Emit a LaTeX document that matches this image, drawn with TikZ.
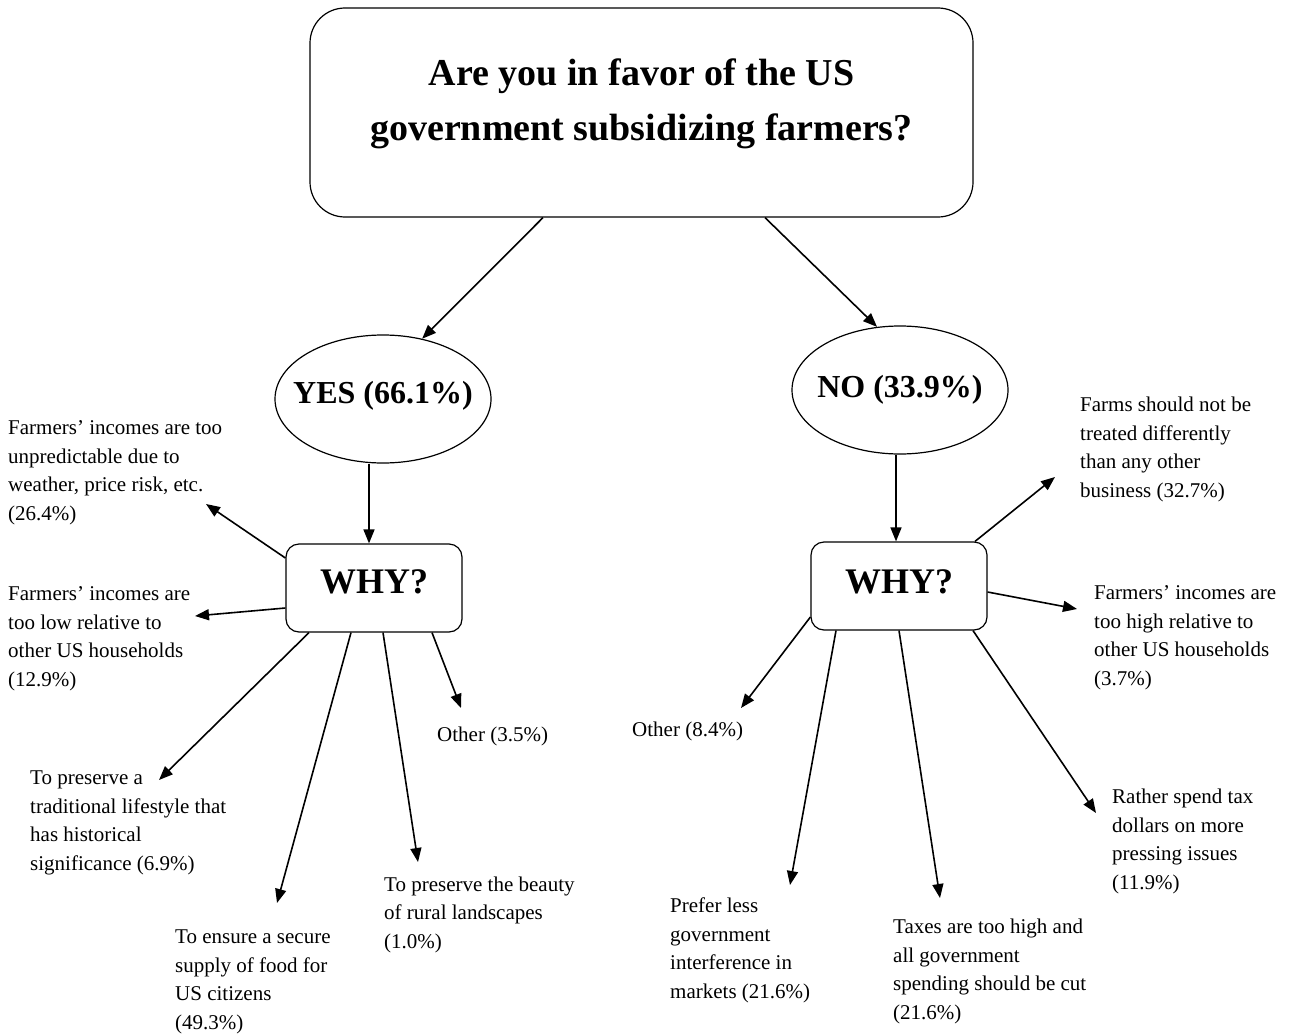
\documentclass[tikz,border=0pt]{standalone}
\usepackage{fontspec}
\setmainfont{Liberation Serif}
\usetikzlibrary{arrows.meta,shapes.geometric}
\tikzset{>={Triangle[length=14pt,width=11pt]}}
\tikzset{
  question/.style={draw, line width=1.2pt, rounded corners=35pt, minimum width=663pt, minimum height=209pt, inner sep=0pt},
  answer/.style={draw, ellipse, line width=1.2pt, minimum width=216pt, minimum height=128pt, inner sep=0pt, font=\fontsize{32}{38}\selectfont\bfseries, text height=24pt, text depth=16pt},
  whybox/.style={draw, line width=1.2pt, rounded corners=13pt, minimum width=176pt, minimum height=88pt, inner sep=0pt, font=\fontsize{36}{42}\selectfont\bfseries, text height=26pt, text depth=16pt},
  reason/.style={anchor=base west, align=left, inner sep=0pt, font=\fontsize{21}{28.5}\selectfont},
  link/.style={->, line width=1.6pt}
}

\begin{document}
\begin{tikzpicture}[x=1pt, y=-1pt]
    \useasboundingbox (0,0) rectangle (1289,1033);
    % question and answers
    \node[question] (q) at (641.5,112.5) {};
    \node[font=\fontsize{38}{55}\selectfont\bfseries, align=center] (qtext) at ([yshift=9]q.center) {Are you in favor of the US\\government subsidizing farmers?};
    \node[answer] (yes) at (383,399) {\makebox[0pt]{YES (66.1\%)}};
    \node[answer, text depth=10pt] (no) at (900,390) {\makebox[0pt]{NO (33.9\%)}};
    \node[whybox] (whyY) at (374,588) {WHY?};
    \node[whybox, text depth=12pt] (whyN) at (899,586) {WHY?};
    \draw[link] ([xshift=-98.5]q.south) -- (yes.57);
    \draw[link] ([xshift=123.5]q.south) -- (no.110);
    \draw[link] ([xshift=-14]yes.south) -- ([xshift=-5]whyY.north);
    \draw[link] ([xshift=-4]no.south) -- ([xshift=-3]whyN.north);

    % reasons for yes (placed at the baseline of the last line)
    \node[reason] (fy1) at (8,520) {Farmers' incomes are too\\unpredictable due to\\weather, price risk, etc.\\(26.4\%)};
    \node[reason] (fy2) at (8,686) {Farmers' incomes are\\too low relative to\\other US households\\(12.9\%)};
    \node[reason] (fy3) at (30,870) {To preserve a\\traditional lifestyle that\\has historical\\significance (6.9\%)};
    \node[reason] (fy4) at (175,1029) {To ensure a secure\\supply of food for\\US citizens\\(49.3\%)};
    \node[reason] (fy5) at (384,948) {To preserve the beauty\\of rural landscapes\\(1.0\%)};
    \node[reason] (fy6) at (437,741) {Other (3.5\%)};
    \coordinate (ty1) at (206,504);
    \coordinate (ty2) at (195,616);
    \coordinate (ty3) at (159,780);
    \coordinate (ty4) at (277,903);
    \coordinate (ty5) at (418,862);
    \coordinate (ty6) at (461,708);
    \draw[link] ([yshift=30]whyY.west) -- (ty1);
    \draw[link] ([yshift=-20]whyY.west) -- (ty2);
    \draw[link] ([xshift=-65]whyY.south) -- (ty3);
    \draw[link] ([xshift=-23]whyY.south) -- (ty4);
    \draw[link] ([xshift=9]whyY.south) -- (ty5);
    \draw[link] ([xshift=58]whyY.south) -- (ty6);

    % reasons for no
    \node[reason] (fn1) at (1080,497) {Farms should not be\\treated differently\\than any other\\business (32.7\%)};
    \node[reason] (fn2) at (1094,685) {Farmers' incomes are\\too high relative to\\other US households\\(3.7\%)};
    \node[reason] (fn3) at (632,736) {Other (8.4\%)};
    \node[reason] (fn4) at (670,998) {Prefer less\\government\\interference in\\markets (21.6\%)};
    \node[reason] (fn5) at (893,1019) {Taxes are too high and\\all government\\spending should be cut\\(21.6\%)};
    \node[reason] (fn6) at (1112,889) {Rather spend tax\\dollars on more\\pressing issues\\(11.9\%)};
    \coordinate (tn1) at (1055,477);
    \coordinate (tn2) at (1077,609);
    \coordinate (tn3) at (741,708);
    \coordinate (tn4) at (790,885);
    \coordinate (tn5) at (940,898);
    \coordinate (tn6) at (1096,813);
    \draw[link] ([xshift=76]whyN.north) -- (tn1);
    \draw[link] ([yshift=-6]whyN.east) -- (tn2);
    \draw[link] ([yshift=-31]whyN.west) -- (tn3);
    \draw[link] ([xshift=-63]whyN.south) -- (tn4);
    \draw[link] (whyN.south) -- (tn5);
    \draw[link] ([xshift=74]whyN.south) -- (tn6);
\end{tikzpicture}
\end{document}
